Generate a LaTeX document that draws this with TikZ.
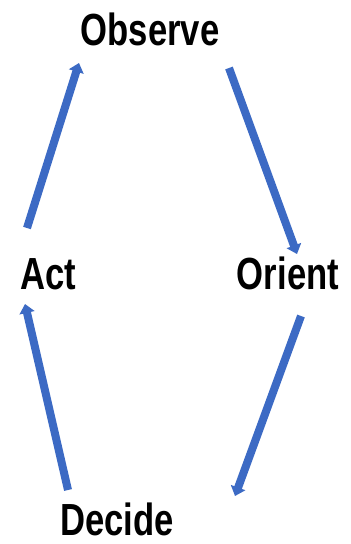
\documentclass[tikz,border=0pt]{standalone}
\usepackage{fontspec}
\setmainfont{Liberation Sans}
\usetikzlibrary{arrows.meta}
\definecolor{arrowblue}{RGB}{60,106,196}
\tikzset{
  label/.style={font=\fontsize{45}{45}\selectfont\bfseries, anchor=base, inner sep=0pt, text=black},
  flow/.style={draw=arrowblue, line width=8pt, -{Triangle[width=15pt,length=9pt]}}
}
\newcommand{\narrow}[1]{\scalebox{0.77}[1]{#1}}
\begin{document}
\begin{tikzpicture}[x=1pt,y=-1pt]
\useasboundingbox[fill=white] (0,0) rectangle (351,544);
\node[label] (observe) at (150,45) {\narrow{Observe}};
\node[label] (act) at (48,289) {\narrow{Act}};
\node[label] (orient) at (288,289) {\narrow{Orient}};
\node[label] (decide) at (117,535) {\narrow{Decide}};
\coordinate (ao1) at (27,228);
\coordinate (ao2) at (79,63);
\coordinate (oo1) at (229,68);
\coordinate (oo2) at (297,254);
\coordinate (od1) at (301,316);
\coordinate (od2) at (235,496);
\coordinate (da1) at (68,490);
\coordinate (da2) at (25,304);
\draw[flow] (ao1) -- (ao2);
\draw[flow] (oo1) -- (oo2);
\draw[flow] (od1) -- (od2);
\draw[flow] (da1) -- (da2);
\end{tikzpicture}
\end{document}
